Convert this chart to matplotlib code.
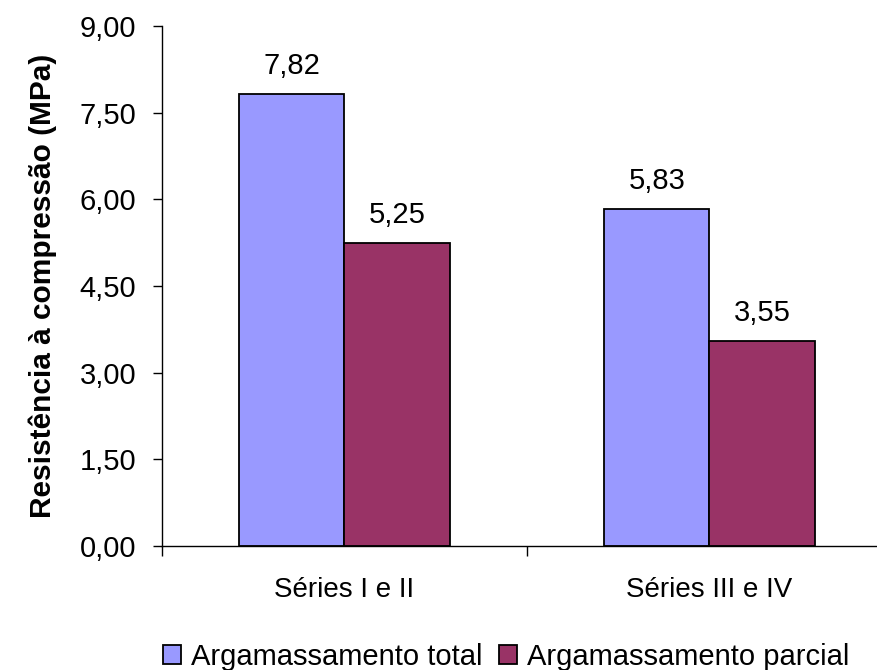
import matplotlib
matplotlib.use("Agg")
import matplotlib.pyplot as plt
from matplotlib.ticker import FuncFormatter, FixedLocator

plt.rcParams['font.family'] = ['Liberation Sans', 'DejaVu Sans']

# compressive strength per series group
categories = ["Séries I e II", "Séries III e IV"]
total = [7.82, 5.83]
parcial = [5.25, 3.55]
series_names = ["Argamassamento total", "Argamassamento parcial"]
colors = ["#9999FF", "#993366"]

FS = 21

fig = plt.figure(figsize=(8.78, 6.70), dpi=100)
ax = fig.add_axes([162 / 878, 124 / 670, 730 / 878, 520 / 670])

width = 0.288
x = list(range(len(categories)))
b1 = ax.bar([i - width / 2 for i in x], total, width, color=colors[0],
            edgecolor="black", linewidth=1.3, label=series_names[0])
b2 = ax.bar([i + width / 2 for i in x], parcial, width, color=colors[1],
            edgecolor="black", linewidth=1.3, label=series_names[1])

for bars, vals in ((b1, total), (b2, parcial)):
    for rect, v in zip(bars, vals):
        ax.annotate(f"{v:.2f}".replace(".", ","),
                    (rect.get_x() + rect.get_width() / 2, v),
                    xytext=(0, 10), textcoords="offset points",
                    ha="center", va="bottom", fontsize=FS)

ax.set_xlim(-0.5, 1.5)
ax.set_ylim(0, 9)
ax.set_yticks([0, 1.5, 3, 4.5, 6, 7.5, 9])
ax.yaxis.set_major_formatter(FuncFormatter(lambda v, p: f"{v:.2f}".replace(".", ",")))
ax.tick_params(axis="y", labelsize=FS, length=6.5, width=1, pad=12, direction="out")

# boundary ticks on the category axis, labels at centers
ax.xaxis.set_major_locator(FixedLocator([-0.5, 0.5, 1.5]))
ax.xaxis.set_minor_locator(FixedLocator(x))
ax.set_xticklabels([], minor=False)
ax.set_xticklabels(categories, minor=True)
ax.tick_params(axis="x", which="major", length=7, width=1, direction="out")
ax.tick_params(axis="x", which="minor", length=0, labelsize=20, pad=22)

for s in ("top", "right"):
    ax.spines[s].set_visible(False)
for s in ("left", "bottom"):
    ax.spines[s].set_linewidth(1)

ax.set_ylabel("Resistência à compressão (MPa)", fontsize=21.5, fontweight="bold", labelpad=16)

fig.legend(loc="center", bbox_to_anchor=(506 / 878, 1 - 657 / 670), ncol=2,
           frameon=False, fontsize=FS, handlelength=0.62, handleheight=0.62,
           handletextpad=0.34, columnspacing=0.58, borderpad=0)

fig.savefig("out.png", dpi=100)
